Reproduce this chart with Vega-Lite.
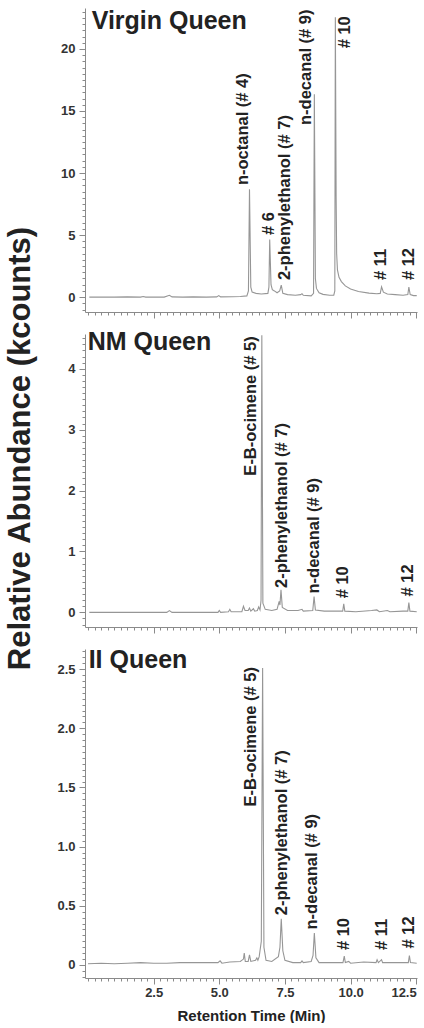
{
  "$schema": "https://vega.github.io/schema/vega-lite/v6.json",
  "padding": {"left": 3, "top": 8, "right": 0, "bottom": 0},
  "bounds": "flush",
  "spacing": 22,
  "config": {
    "view": {"stroke": null},
    "font": "Liberation Sans",
    "axis": {"grid": false, "domainColor": "#8a8a8a", "tickColor": "#8a8a8a", "labelFont": "Liberation Sans", "labelFontSize": 13, "labelFontWeight": "bold", "labelColor": "#333333", "titleFont": "Liberation Sans", "titleColor": "#222222"}
  },
  "datasets": {
    "virgin": [
      {"t": 0.05, "a": 0.0}, {"t": 0.5, "a": 0.0}, {"t": 1.0, "a": 0.0}, {"t": 1.5, "a": 0.02}, {"t": 2.0, "a": 0.0}, {"t": 2.1, "a": 0.05}, {"t": 2.2, "a": 0.0},
      {"t": 2.9, "a": 0.0}, {"t": 3.1, "a": 0.15}, {"t": 3.2, "a": 0.02}, {"t": 3.6, "a": 0.0}, {"t": 4.0, "a": 0.02}, {"t": 4.5, "a": 0.0}, {"t": 4.9, "a": 0.02},
      {"t": 4.98, "a": 0.12}, {"t": 5.05, "a": 0.02}, {"t": 5.5, "a": 0.03}, {"t": 5.8, "a": 0.05}, {"t": 6.05, "a": 0.1}, {"t": 6.11, "a": 0.5}, {"t": 6.15, "a": 8.7},
      {"t": 6.2, "a": 0.8}, {"t": 6.25, "a": 0.4}, {"t": 6.4, "a": 0.3}, {"t": 6.6, "a": 0.25}, {"t": 6.85, "a": 0.3}, {"t": 6.89, "a": 0.8}, {"t": 6.92, "a": 4.65},
      {"t": 6.97, "a": 1.0}, {"t": 7.02, "a": 0.6}, {"t": 7.1, "a": 0.5}, {"t": 7.2, "a": 0.35}, {"t": 7.3, "a": 0.5}, {"t": 7.36, "a": 0.97}, {"t": 7.42, "a": 0.3},
      {"t": 7.6, "a": 0.2}, {"t": 7.9, "a": 0.15}, {"t": 8.1, "a": 0.2}, {"t": 8.15, "a": 0.28}, {"t": 8.2, "a": 0.15}, {"t": 8.5, "a": 0.1}, {"t": 8.59, "a": 0.3},
      {"t": 8.62, "a": 16.35}, {"t": 8.66, "a": 1.5}, {"t": 8.7, "a": 0.7}, {"t": 8.8, "a": 0.35}, {"t": 8.95, "a": 0.22}, {"t": 9.2, "a": 0.15}, {"t": 9.36, "a": 0.15},
      {"t": 9.4, "a": 0.5}, {"t": 9.42, "a": 22.55}, {"t": 9.45, "a": 8.0}, {"t": 9.47, "a": 3.5}, {"t": 9.5, "a": 2.2}, {"t": 9.56, "a": 1.6}, {"t": 9.65, "a": 1.25},
      {"t": 9.8, "a": 0.9}, {"t": 10.0, "a": 0.65}, {"t": 10.3, "a": 0.45}, {"t": 10.7, "a": 0.32}, {"t": 11.0, "a": 0.27}, {"t": 11.13, "a": 0.3}, {"t": 11.18, "a": 0.83},
      {"t": 11.25, "a": 0.4}, {"t": 11.4, "a": 0.25}, {"t": 11.7, "a": 0.2}, {"t": 12.0, "a": 0.15}, {"t": 12.18, "a": 0.2}, {"t": 12.22, "a": 0.8}, {"t": 12.27, "a": 0.2},
      {"t": 12.4, "a": 0.12}, {"t": 12.52, "a": 0.12}
    ],
    "virginLabels": [
      {"label": "n-octanal (# 4)", "lx": 5.92, "ly": 9.03},
      {"label": "# 6", "lx": 6.88, "ly": 5.0},
      {"label": "2-phenylethanol (# 7)", "lx": 7.51, "ly": 1.37},
      {"label": "n-decanal (# 9)", "lx": 8.3, "ly": 13.87},
      {"label": "# 10", "lx": 9.8, "ly": 20.05},
      {"label": "# 11", "lx": 11.14, "ly": 1.37},
      {"label": "# 12", "lx": 12.22, "ly": 1.37}
    ],
    "nm": [
      {"t": 0.05, "a": 0.0}, {"t": 1.0, "a": 0.0}, {"t": 2.0, "a": 0.0}, {"t": 3.0, "a": 0.0}, {"t": 3.1, "a": 0.03}, {"t": 3.2, "a": 0.0}, {"t": 4.0, "a": 0.0},
      {"t": 4.95, "a": 0.0}, {"t": 5.0, "a": 0.03}, {"t": 5.05, "a": 0.0}, {"t": 5.35, "a": 0.01}, {"t": 5.4, "a": 0.05}, {"t": 5.45, "a": 0.01}, {"t": 5.86, "a": 0.01},
      {"t": 5.92, "a": 0.1}, {"t": 5.98, "a": 0.03}, {"t": 6.1, "a": 0.03}, {"t": 6.15, "a": 0.07}, {"t": 6.2, "a": 0.02}, {"t": 6.3, "a": 0.06}, {"t": 6.35, "a": 0.02},
      {"t": 6.45, "a": 0.03}, {"t": 6.5, "a": 0.09}, {"t": 6.55, "a": 0.04}, {"t": 6.59, "a": 0.2}, {"t": 6.62, "a": 4.55}, {"t": 6.66, "a": 0.15}, {"t": 6.75, "a": 0.05},
      {"t": 7.0, "a": 0.03}, {"t": 7.2, "a": 0.05}, {"t": 7.28, "a": 0.18}, {"t": 7.31, "a": 0.12}, {"t": 7.35, "a": 0.37}, {"t": 7.4, "a": 0.08}, {"t": 7.6, "a": 0.03},
      {"t": 8.0, "a": 0.03}, {"t": 8.15, "a": 0.05}, {"t": 8.2, "a": 0.02}, {"t": 8.56, "a": 0.03}, {"t": 8.61, "a": 0.26}, {"t": 8.66, "a": 0.04}, {"t": 9.0, "a": 0.02},
      {"t": 9.7, "a": 0.02}, {"t": 9.74, "a": 0.14}, {"t": 9.78, "a": 0.02}, {"t": 10.2, "a": 0.01}, {"t": 10.8, "a": 0.03}, {"t": 11.0, "a": 0.04}, {"t": 11.1, "a": 0.01},
      {"t": 11.4, "a": 0.03}, {"t": 11.5, "a": 0.01}, {"t": 12.0, "a": 0.02}, {"t": 12.18, "a": 0.02}, {"t": 12.22, "a": 0.16}, {"t": 12.26, "a": 0.02}, {"t": 12.52, "a": 0.01}
    ],
    "nmLabels": [
      {"label": "E-B-ocimene (# 5)", "lx": 6.21, "ly": 2.245},
      {"label": "2-phenylethanol (# 7)", "lx": 7.39, "ly": 0.4},
      {"label": "n-decanal (# 9)", "lx": 8.62, "ly": 0.31},
      {"label": "# 10", "lx": 9.7, "ly": 0.23},
      {"label": "# 12", "lx": 12.19, "ly": 0.26}
    ],
    "ii": [
      {"t": 0.0, "a": 0.01}, {"t": 0.5, "a": 0.015}, {"t": 1.0, "a": 0.01}, {"t": 1.5, "a": 0.015}, {"t": 2.0, "a": 0.02}, {"t": 2.5, "a": 0.015}, {"t": 3.0, "a": 0.015},
      {"t": 3.5, "a": 0.02}, {"t": 4.0, "a": 0.02}, {"t": 4.5, "a": 0.02}, {"t": 4.95, "a": 0.02}, {"t": 5.03, "a": 0.035}, {"t": 5.1, "a": 0.015}, {"t": 5.4, "a": 0.025},
      {"t": 5.8, "a": 0.03}, {"t": 5.92, "a": 0.05}, {"t": 5.95, "a": 0.1}, {"t": 5.99, "a": 0.03}, {"t": 6.1, "a": 0.03}, {"t": 6.15, "a": 0.085}, {"t": 6.2, "a": 0.03},
      {"t": 6.38, "a": 0.04}, {"t": 6.43, "a": 0.06}, {"t": 6.47, "a": 0.04}, {"t": 6.52, "a": 0.07}, {"t": 6.6, "a": 0.2}, {"t": 6.65, "a": 2.51}, {"t": 6.7, "a": 0.15},
      {"t": 6.78, "a": 0.04}, {"t": 7.0, "a": 0.03}, {"t": 7.25, "a": 0.07}, {"t": 7.31, "a": 0.15}, {"t": 7.36, "a": 0.39}, {"t": 7.42, "a": 0.12}, {"t": 7.5, "a": 0.04},
      {"t": 7.8, "a": 0.02}, {"t": 8.1, "a": 0.02}, {"t": 8.15, "a": 0.035}, {"t": 8.2, "a": 0.02}, {"t": 8.5, "a": 0.03}, {"t": 8.57, "a": 0.08}, {"t": 8.62, "a": 0.27},
      {"t": 8.68, "a": 0.06}, {"t": 8.8, "a": 0.02}, {"t": 9.3, "a": 0.02}, {"t": 9.71, "a": 0.02}, {"t": 9.76, "a": 0.075}, {"t": 9.8, "a": 0.02}, {"t": 9.93, "a": 0.03},
      {"t": 10.0, "a": 0.015}, {"t": 10.5, "a": 0.025}, {"t": 10.97, "a": 0.02}, {"t": 11.01, "a": 0.045}, {"t": 11.06, "a": 0.02}, {"t": 11.18, "a": 0.045}, {"t": 11.22, "a": 0.02},
      {"t": 11.6, "a": 0.02}, {"t": 12.0, "a": 0.02}, {"t": 12.2, "a": 0.02}, {"t": 12.24, "a": 0.08}, {"t": 12.28, "a": 0.02}, {"t": 12.52, "a": 0.015}
    ],
    "iiLabels": [
      {"label": "E-B-ocimene (# 5)", "lx": 6.21, "ly": 1.34},
      {"label": "2-phenylethanol (# 7)", "lx": 7.39, "ly": 0.42},
      {"label": "n-decanal (# 9)", "lx": 8.53, "ly": 0.3},
      {"label": "# 10", "lx": 9.74, "ly": 0.126},
      {"label": "# 11", "lx": 11.18, "ly": 0.126},
      {"label": "# 12", "lx": 12.22, "ly": 0.14}
    ]
  },
  "vconcat": [
    {
      "width": 332, "height": 304,
      "layer": [
        {
          "data": {"name": "virgin"},
          "mark": {"type": "line", "color": "#969696", "strokeWidth": 1.1},
          "encoding": {
            "x": {"field": "t", "type": "quantitative", "scale": {"domain": [-0.115, 12.53], "nice": false, "zero": false}, "axis": {"orient": "bottom", "values": [2.5, 5, 7.5, 10, 12.5], "labels": false, "title": null, "tickSize": 6}},
            "y": {"field": "a", "type": "quantitative", "scale": {"domain": [-1.2, 23.3], "nice": false, "zero": false}, "axis": {"orient": "left", "values": [0, 5, 10, 15, 20], "tickSize": 6, "labelPadding": 4, "title": null}}
          }
        },
        {
          "data": {"name": "virginLabels"},
          "mark": {"type": "text", "angle": 270, "align": "left", "baseline": "middle", "font": "Liberation Sans", "fontSize": 16.5, "fontWeight": "bold", "color": "#222222"},
          "encoding": {
            "x": {"field": "lx", "type": "quantitative", "scale": {"domain": [-0.115, 12.53], "nice": false, "zero": false}, "axis": {"orient": "bottom", "values": [0, 0.25, 0.5, 0.75, 1, 1.25, 1.5, 1.75, 2, 2.25, 2.5, 2.75, 3, 3.25, 3.5, 3.75, 4, 4.25, 4.5, 4.75, 5, 5.25, 5.5, 5.75, 6, 6.25, 6.5, 6.75, 7, 7.25, 7.5, 7.75, 8, 8.25, 8.5, 8.75, 9, 9.25, 9.5, 9.75, 10, 10.25, 10.5, 10.75, 11, 11.25, 11.5, 11.75, 12, 12.25, 12.5], "labels": false, "domain": false, "title": null, "tickSize": 3}},
            "y": {"field": "ly", "type": "quantitative", "scale": {"domain": [-1.2, 23.3], "nice": false, "zero": false}, "axis": {"orient": "left", "values": [-1, -0.5, 0, 0.5, 1, 1.5, 2, 2.5, 3, 3.5, 4, 4.5, 5, 5.5, 6, 6.5, 7, 7.5, 8, 8.5, 9, 9.5, 10, 10.5, 11, 11.5, 12, 12.5, 13, 13.5, 14, 14.5, 15, 15.5, 16, 16.5, 17, 17.5, 18, 18.5, 19, 19.5, 20, 20.5, 21, 21.5, 22, 22.5, 23], "labels": false, "domain": false, "title": null, "tickSize": 3}},
            "text": {"field": "label"}
          }
        },
        {
          "data": {"values": [{"name": "Virgin Queen", "tx": 0.139, "ty": 21.6}]},
          "mark": {"type": "text", "align": "left", "baseline": "alphabetic", "font": "Liberation Sans", "fontSize": 25, "fontWeight": "bold", "color": "#222222"},
          "encoding": {
            "x": {"field": "tx", "type": "quantitative", "scale": {"domain": [-0.115, 12.53], "nice": false, "zero": false}, "axis": null},
            "y": {"field": "ty", "type": "quantitative", "scale": {"domain": [-1.2, 23.3], "nice": false, "zero": false}, "axis": null},
            "text": {"field": "name"}
          }
        }
      ],
      "resolve": {"axis": {"x": "independent", "y": "independent"}}
    },
    {
      "width": 332, "height": 293,
      "layer": [
        {
          "data": {"name": "nm"},
          "mark": {"type": "line", "color": "#969696", "strokeWidth": 1.1},
          "encoding": {
            "x": {"field": "t", "type": "quantitative", "scale": {"domain": [-0.115, 12.53], "nice": false, "zero": false}, "axis": {"orient": "bottom", "values": [2.5, 5, 7.5, 10, 12.5], "labels": false, "title": null, "tickSize": 6}},
            "y": {"field": "a", "type": "quantitative", "scale": {"domain": [-0.24, 4.57], "nice": false, "zero": false}, "axis": {"orient": "left", "values": [0, 1, 2, 3, 4], "tickSize": 6, "labelPadding": 4, "title": "Relative Abundance (kcounts)", "titleFontSize": 31, "titleFontWeight": "bold", "titleAngle": 270, "titleAlign": "center", "titleBaseline": "alphabetic", "titleX": -56, "titleY": 114}}
          }
        },
        {
          "data": {"name": "nmLabels"},
          "mark": {"type": "text", "angle": 270, "align": "left", "baseline": "middle", "font": "Liberation Sans", "fontSize": 16.5, "fontWeight": "bold", "color": "#222222"},
          "encoding": {
            "x": {"field": "lx", "type": "quantitative", "scale": {"domain": [-0.115, 12.53], "nice": false, "zero": false}, "axis": {"orient": "bottom", "values": [0, 0.25, 0.5, 0.75, 1, 1.25, 1.5, 1.75, 2, 2.25, 2.5, 2.75, 3, 3.25, 3.5, 3.75, 4, 4.25, 4.5, 4.75, 5, 5.25, 5.5, 5.75, 6, 6.25, 6.5, 6.75, 7, 7.25, 7.5, 7.75, 8, 8.25, 8.5, 8.75, 9, 9.25, 9.5, 9.75, 10, 10.25, 10.5, 10.75, 11, 11.25, 11.5, 11.75, 12, 12.25, 12.5], "labels": false, "domain": false, "title": null, "tickSize": 3}},
            "y": {"field": "ly", "type": "quantitative", "scale": {"domain": [-0.24, 4.57], "nice": false, "zero": false}, "axis": {"orient": "left", "values": [-0.2, -0.1, 0, 0.1, 0.2, 0.3, 0.4, 0.5, 0.6, 0.7, 0.8, 0.9, 1, 1.1, 1.2, 1.3, 1.4, 1.5, 1.6, 1.7, 1.8, 1.9, 2, 2.1, 2.2, 2.3, 2.4, 2.5, 2.6, 2.7, 2.8, 2.9, 3, 3.1, 3.2, 3.3, 3.4, 3.5, 3.6, 3.7, 3.8, 3.9, 4, 4.1, 4.2, 4.3, 4.4, 4.5], "labels": false, "domain": false, "title": null, "tickSize": 3}},
            "text": {"field": "label"}
          }
        },
        {
          "data": {"values": [{"name": "NM Queen", "tx": -0.013, "ty": 4.31}]},
          "mark": {"type": "text", "align": "left", "baseline": "alphabetic", "font": "Liberation Sans", "fontSize": 25, "fontWeight": "bold", "color": "#222222"},
          "encoding": {
            "x": {"field": "tx", "type": "quantitative", "scale": {"domain": [-0.115, 12.53], "nice": false, "zero": false}, "axis": null},
            "y": {"field": "ty", "type": "quantitative", "scale": {"domain": [-0.24, 4.57], "nice": false, "zero": false}, "axis": null},
            "text": {"field": "name"}
          }
        }
      ],
      "resolve": {"axis": {"x": "independent", "y": "independent"}}
    },
    {
      "width": 332, "height": 329,
      "layer": [
        {
          "data": {"name": "ii"},
          "mark": {"type": "line", "color": "#969696", "strokeWidth": 1.1},
          "encoding": {
            "x": {"field": "t", "type": "quantitative", "scale": {"domain": [-0.115, 12.53], "nice": false, "zero": false}, "axis": {"orient": "bottom", "values": [2.5, 5, 7.5, 10, 12.5], "format": ".1f", "tickSize": 6, "labelPadding": 2, "title": "Retention Time (Min)", "titleFontSize": 15, "titleFontWeight": "bold", "titlePadding": 9}},
            "y": {"field": "a", "type": "quantitative", "scale": {"domain": [-0.11, 2.67], "nice": false, "zero": false}, "axis": {"orient": "left", "values": [0, 0.5, 1, 1.5, 2, 2.5], "labelExpr": "datum.value == 0 ? '0' : format(datum.value, '.1f')", "tickSize": 6, "labelPadding": 4, "title": null}}
          }
        },
        {
          "data": {"name": "iiLabels"},
          "mark": {"type": "text", "angle": 270, "align": "left", "baseline": "middle", "font": "Liberation Sans", "fontSize": 16.5, "fontWeight": "bold", "color": "#222222"},
          "encoding": {
            "x": {"field": "lx", "type": "quantitative", "scale": {"domain": [-0.115, 12.53], "nice": false, "zero": false}, "axis": {"orient": "bottom", "values": [0, 0.25, 0.5, 0.75, 1, 1.25, 1.5, 1.75, 2, 2.25, 2.5, 2.75, 3, 3.25, 3.5, 3.75, 4, 4.25, 4.5, 4.75, 5, 5.25, 5.5, 5.75, 6, 6.25, 6.5, 6.75, 7, 7.25, 7.5, 7.75, 8, 8.25, 8.5, 8.75, 9, 9.25, 9.5, 9.75, 10, 10.25, 10.5, 10.75, 11, 11.25, 11.5, 11.75, 12, 12.25, 12.5], "labels": false, "domain": false, "title": null, "tickSize": 3}},
            "y": {"field": "ly", "type": "quantitative", "scale": {"domain": [-0.11, 2.67], "nice": false, "zero": false}, "axis": {"orient": "left", "values": [-0.1, -0.05, 0, 0.05, 0.1, 0.15, 0.2, 0.25, 0.3, 0.35, 0.4, 0.45, 0.5, 0.55, 0.6, 0.65, 0.7, 0.75, 0.8, 0.85, 0.9, 0.95, 1, 1.05, 1.1, 1.15, 1.2, 1.25, 1.3, 1.35, 1.4, 1.45, 1.5, 1.55, 1.6, 1.65, 1.7, 1.75, 1.8, 1.85, 1.9, 1.95, 2, 2.05, 2.1, 2.15, 2.2, 2.25, 2.3, 2.35, 2.4, 2.45, 2.5, 2.55, 2.6, 2.65], "labels": false, "domain": false, "title": null, "tickSize": 3}},
            "text": {"field": "label"}
          }
        },
        {
          "data": {"values": [{"name": "II Queen", "tx": 0.025, "ty": 2.51}]},
          "mark": {"type": "text", "align": "left", "baseline": "alphabetic", "font": "Liberation Sans", "fontSize": 25, "fontWeight": "bold", "color": "#222222"},
          "encoding": {
            "x": {"field": "tx", "type": "quantitative", "scale": {"domain": [-0.115, 12.53], "nice": false, "zero": false}, "axis": null},
            "y": {"field": "ty", "type": "quantitative", "scale": {"domain": [-0.11, 2.67], "nice": false, "zero": false}, "axis": null},
            "text": {"field": "name"}
          }
        }
      ],
      "resolve": {"axis": {"x": "independent", "y": "independent"}}
    }
  ]
}
